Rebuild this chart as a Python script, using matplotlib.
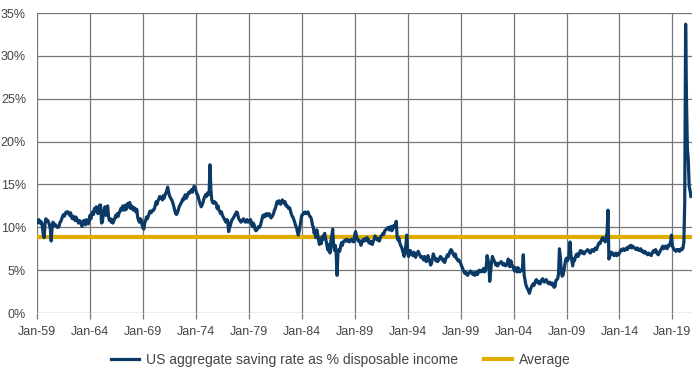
import numpy as np
import pandas as pd
import matplotlib
matplotlib.use("Agg")
import matplotlib.pyplot as plt
import matplotlib.dates as mdates

plt.rcParams['font.family'] = ['Liberation Sans', 'DejaVu Sans']

# monthly US saving rate (% of disposable income), Jan-1959 .. Oct-2020
saving_by_year = {
    1959: [10.6, 10.8, 10.9, 10.5, 10.7, 10.6, 10.1, 9.2, 8.8, 10.4, 11.0, 10.8],
    1960: [10.8, 10.6, 10.3, 9.8, 8.4, 10.0, 10.6, 10.4, 10.2, 10.3, 10.1, 10.0],
    1961: [10.0, 10.2, 10.6, 10.7, 11.0, 11.3, 11.5, 11.3, 11.6, 11.8, 11.7, 11.8],
    1962: [11.6, 11.4, 11.7, 11.2, 11.0, 11.3, 11.1, 10.8, 11.2, 11.0, 10.7, 10.5],
    1963: [10.8, 10.7, 10.4, 10.1, 10.6, 10.8, 10.5, 10.3, 10.9, 10.6, 10.4, 10.8],
    1964: [11.4, 11.0, 11.6, 11.8, 11.5, 12.2, 11.9, 12.4, 12.0, 11.6, 12.3, 12.6],
    1965: [12.6, 10.5, 10.6, 11.5, 12.0, 12.4, 11.4, 12.3, 12.5, 11.2, 10.8, 11.0],
    1966: [10.6, 10.9, 10.5, 10.8, 11.0, 11.4, 11.2, 11.6, 11.3, 11.7, 11.9, 12.2],
    1967: [12.0, 12.5, 12.2, 12.0, 12.6, 12.1, 12.3, 12.8, 12.4, 12.9, 12.2, 12.5],
    1968: [12.4, 12.0, 12.3, 12.2, 11.8, 12.1, 11.2, 10.8, 10.6, 11.0, 10.9, 10.3],
    1969: [9.9, 9.8, 10.5, 10.8, 11.2, 11.0, 11.3, 11.6, 11.9, 11.7, 11.8, 12.0],
    1970: [12.0, 12.2, 12.6, 13.0, 12.7, 13.1, 13.3, 13.6, 13.4, 13.5, 13.2, 13.7],
    1971: [13.4, 13.8, 14.0, 14.3, 14.7, 14.2, 13.7, 13.5, 13.3, 13.1, 12.8, 12.4],
    1972: [12.0, 11.6, 11.5, 11.7, 12.0, 12.4, 12.6, 12.8, 13.0, 13.3, 13.2, 13.6],
    1973: [13.8, 13.4, 13.6, 13.9, 14.1, 14.0, 14.2, 14.4, 14.1, 14.5, 14.8, 14.6],
    1974: [14.3, 13.9, 13.8, 13.4, 13.0, 12.7, 12.4, 12.6, 12.9, 13.3, 13.6, 13.8],
    1975: [13.6, 14.0, 13.8, 13.9, 17.3, 14.4, 13.2, 12.9, 12.8, 13.0, 12.9, 12.8],
    1976: [12.2, 12.5, 12.0, 11.9, 11.6, 11.8, 11.4, 11.2, 11.0, 10.8, 10.6, 10.9],
    1977: [10.8, 9.5, 9.9, 10.2, 10.6, 10.9, 11.0, 11.2, 11.4, 11.6, 11.8, 11.7],
    1978: [11.2, 10.9, 10.8, 10.6, 10.7, 10.9, 11.0, 10.8, 10.6, 10.7, 10.9, 10.6],
    1979: [10.8, 10.7, 10.9, 10.4, 10.1, 10.5, 10.3, 9.8, 9.6, 9.7, 9.9, 10.1],
    1980: [10.0, 10.2, 10.6, 11.0, 11.4, 11.2, 11.5, 11.3, 11.6, 11.4, 11.5, 11.6],
    1981: [11.3, 11.1, 11.2, 11.4, 11.6, 12.0, 12.2, 12.6, 13.0, 12.8, 13.1, 12.9],
    1982: [12.7, 13.0, 13.2, 12.9, 12.8, 13.0, 12.5, 12.6, 12.4, 12.2, 12.3, 12.0],
    1983: [11.6, 11.3, 11.2, 10.9, 10.6, 10.2, 10.0, 9.5, 9.1, 9.5, 10.2, 10.8],
    1984: [11.4, 11.5, 11.7, 11.6, 11.8, 11.6, 11.7, 11.8, 11.5, 11.3, 11.2, 10.9],
    1985: [10.3, 10.0, 9.3, 9.6, 8.8, 9.7, 9.2, 8.5, 8.0, 8.7, 8.1, 8.9],
    1986: [8.6, 9.1, 9.3, 8.7, 8.2, 7.6, 7.3, 8.0, 7.0, 8.4, 9.0, 9.8],
    1987: [7.8, 7.3, 7.9, 6.9, 4.4, 7.0, 7.4, 7.2, 7.8, 8.2, 7.9, 8.3],
    1988: [8.4, 8.5, 8.4, 8.6, 8.4, 8.5, 8.3, 8.5, 8.6, 8.4, 8.5, 8.3],
    1989: [9.2, 9.5, 9.0, 8.6, 8.4, 8.5, 8.3, 7.9, 8.2, 8.5, 8.6, 8.4],
    1990: [8.7, 8.5, 8.8, 8.6, 8.2, 8.4, 8.1, 8.3, 8.0, 8.4, 8.6, 9.0],
    1991: [8.8, 8.6, 8.5, 8.7, 8.4, 8.8, 9.0, 9.1, 9.3, 9.2, 9.6, 9.7],
    1992: [9.8, 9.9, 10.0, 9.7, 9.9, 10.1, 9.6, 9.8, 10.2, 10.0, 10.3, 10.7],
    1993: [8.9, 8.5, 8.8, 8.2, 7.9, 7.7, 7.4, 7.0, 6.6, 7.2, 8.0, 9.1],
    1994: [7.0, 6.6, 6.9, 7.3, 7.0, 6.8, 6.7, 7.1, 6.9, 6.5, 6.8, 7.0],
    1995: [7.2, 6.9, 6.7, 6.5, 6.6, 6.4, 6.2, 6.6, 6.3, 6.0, 6.4, 6.7],
    1996: [6.3, 6.0, 5.6, 5.8, 6.3, 6.9, 6.6, 6.4, 6.1, 6.3, 6.0, 6.2],
    1997: [6.4, 6.6, 6.5, 6.2, 6.3, 6.0, 5.9, 6.3, 6.5, 6.8, 6.6, 6.9],
    1998: [7.2, 7.4, 7.3, 7.0, 6.8, 6.6, 6.9, 6.4, 6.3, 6.1, 6.2, 6.0],
    1999: [5.8, 5.5, 5.3, 5.0, 4.8, 4.6, 4.8, 4.5, 4.4, 4.6, 4.7, 4.9],
    2000: [4.8, 4.6, 4.5, 4.7, 4.4, 4.6, 4.8, 4.5, 4.7, 5.0, 4.9, 4.8],
    2001: [5.0, 4.9, 5.2, 4.8, 4.9, 5.4, 6.7, 6.2, 5.6, 3.7, 4.8, 5.9],
    2002: [6.6, 6.3, 6.1, 5.9, 5.6, 5.8, 5.5, 5.7, 5.8, 5.9, 6.0, 5.8],
    2003: [5.6, 5.8, 5.6, 5.5, 5.7, 5.8, 6.3, 5.5, 5.4, 6.1, 5.6, 5.5],
    2004: [5.2, 4.9, 5.3, 5.0, 4.8, 5.3, 5.1, 4.8, 4.9, 5.0, 5.2, 6.8],
    2005: [4.4, 3.8, 3.3, 3.0, 2.8, 2.6, 2.3, 2.7, 3.0, 3.2, 3.4, 3.2],
    2006: [3.5, 3.8, 3.9, 3.6, 3.5, 3.7, 3.4, 3.6, 3.9, 4.0, 3.8, 3.6],
    2007: [3.8, 3.9, 3.7, 3.5, 3.4, 3.6, 3.5, 3.3, 3.5, 3.2, 3.0, 3.1],
    2008: [3.8, 3.9, 4.0, 4.6, 7.5, 6.6, 5.1, 4.3, 4.4, 4.9, 5.6, 6.2],
    2009: [6.4, 6.1, 6.3, 6.8, 8.3, 6.8, 6.2, 5.5, 6.3, 6.1, 6.5, 6.8],
    2010: [6.9, 6.6, 6.8, 7.1, 7.3, 7.0, 7.2, 7.0, 6.9, 7.1, 7.2, 7.3],
    2011: [7.4, 7.3, 7.1, 7.0, 7.2, 7.4, 7.3, 7.2, 7.5, 7.6, 7.4, 7.7],
    2012: [8.0, 8.2, 8.1, 8.4, 8.6, 8.8, 8.5, 8.6, 8.3, 8.8, 9.5, 12.0],
    2013: [6.3, 6.6, 6.9, 7.1, 7.0, 6.8, 6.7, 6.9, 7.0, 6.7, 6.9, 6.8],
    2014: [7.0, 7.2, 7.4, 7.3, 7.5, 7.4, 7.3, 7.5, 7.6, 7.4, 7.6, 7.8],
    2015: [7.7, 7.9, 7.6, 7.8, 7.7, 7.6, 7.5, 7.4, 7.6, 7.5, 7.3, 7.4],
    2016: [7.5, 7.2, 7.3, 7.1, 7.0, 7.2, 7.0, 6.9, 6.8, 7.0, 6.9, 6.8],
    2017: [6.7, 7.0, 7.2, 7.3, 7.1, 7.4, 7.2, 6.9, 6.8, 7.0, 7.2, 7.4],
    2018: [7.6, 7.8, 7.5, 7.6, 7.8, 7.7, 7.5, 7.9, 7.8, 8.0, 8.3, 9.1],
    2019: [7.8, 7.6, 7.4, 7.3, 7.2, 7.4, 7.3, 7.4, 7.2, 7.3, 7.5, 7.4],
    2020: [7.6, 8.3, 12.9, 33.7, 24.9, 19.2, 17.9, 14.8, 14.3, 13.6],
}
average_rate = 8.9

saving = [v for yr in sorted(saving_by_year) for v in saving_by_year[yr]]
dates = pd.date_range('1959-01-01', periods=len(saving), freq='MS')

navy = '#0B3A66'
gold = '#E0AC00'
grid_grey = '#777777'

fig = plt.figure(figsize=(7, 3.74), dpi=100)
ax = fig.add_axes([0.053, 0.163, 0.9357, 0.802])

ax.plot(dates, saving, color=navy, lw=2.3, zorder=3,
        label='US aggregate saving rate as % disposable income')
ax.axhline(average_rate, color=gold, lw=3, zorder=2, label='Average')

ax.set_ylim(0, 35)
ax.set_yticks(np.arange(0, 36, 5))
ax.set_yticklabels([f'{t}%' for t in range(0, 36, 5)])

ax.set_xlim(pd.Timestamp('1959-01-01'), pd.Timestamp('2020-11-10'))
ax.set_xticks(pd.date_range('1959-01-01', '2019-01-01', freq='5YS'))
ax.xaxis.set_major_formatter(mdates.DateFormatter('%b-%y'))

ax.grid(True, color=grid_grey, lw=0.9)
ax.set_axisbelow(True)
for s in ax.spines.values():
    s.set_visible(False)

ax.tick_params(axis='y', length=0, pad=8, labelsize=9, labelcolor='#444444')
ax.tick_params(axis='x', length=4, color=grid_grey, width=0.9, pad=5,
               labelsize=9, labelcolor='#444444')

ax.legend(loc='upper center', bbox_to_anchor=(0.464, -0.09), ncol=2, frameon=False,
          fontsize=10, handlelength=2.0, handletextpad=0.5, columnspacing=1.9,
          labelcolor='#444444')

fig.savefig('out.png', dpi=100)
